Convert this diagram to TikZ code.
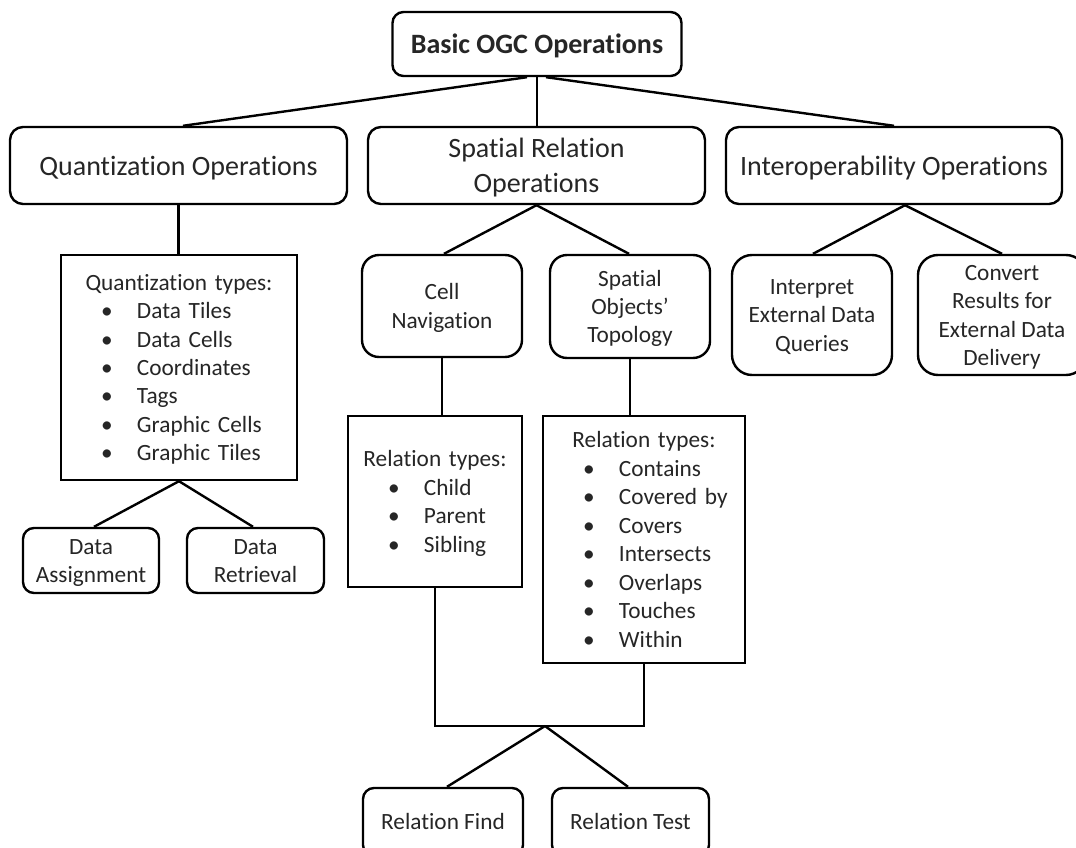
\documentclass[tikz,border=0pt]{standalone}
\usepackage{fontspec}
\setmainfont{Carlito}[Ligatures={NoCommon}]
\newcommand\itm[1]{\makebox[\hsize][l]{\hspace*{40pt}\makebox[36pt][l]{\textbullet}#1}}
\newcommand\cstrut{\vrule width 0pt height 0.952em depth 0.269em\relax}
\newcommand\T[1]{\cstrut#1\cstrut}
\tikzset{
  base/.style={draw=black, line width=2.4pt, inner sep=0pt, align=center, text=black!85},
  big/.style={base, font=\fontsize{28}{34.2}\selectfont},
  small/.style={base, font=\fontsize{23.3}{28.45}\selectfont},
  listbox/.style={small, text width=#1, minimum width=#1,
    execute at begin node={\leavevmode\cstrut}, execute at end node={\cstrut}},
  conn/.style={draw=black, line width=2.4pt},
}
\begin{document}
\begin{tikzpicture}[x=1pt, y=-1pt]
\path[use as bounding box, fill=white] (0,0) rectangle (1076,848);
\clip (0,0) rectangle (1076,848);

% level 0
\node[big, font=\fontsize{28}{34.2}\selectfont\bfseries, minimum width=289, minimum height=64, rounded corners=11] (top) at (537,44) {\T{Basic OGC Operations}};

% level 1
\node[big, minimum width=337, minimum height=77, rounded corners=13] (qop) at (178.5,165.5) {\T{Quantization Operations}};
\node[big, minimum width=337, minimum height=77, rounded corners=13] (sop) at (536.5,165.5) {\T{Spatial Relation\\Operations}};
\node[big, minimum width=336, minimum height=77, rounded corners=13] (iop) at (894,165.5) {\T{Interoperability Operations}};

% quantization branch
\node[listbox=236, minimum height=225] (qtypes) at (179,367.5) {Quantization types:\\\itm{Data Tiles}\\\itm{Data Cells}\\\itm{Coordinates}\\\itm{Tags}\\\itm{Graphic Cells}\\\itm{Graphic Tiles}};
\node[small, minimum width=136, minimum height=65, rounded corners=11] (da) at (91,560.5) {\T{Data\\Assignment}};
\node[small, minimum width=137, minimum height=65, rounded corners=11] (dr) at (255.5,560.5) {\T{Data\\Retrieval}};

% spatial relation branch
\node[small, minimum width=160, minimum height=102, rounded corners=17] (cn) at (442,306) {\T{Cell\\Navigation}};
\node[small, minimum width=160, minimum height=103, rounded corners=17] (tp) at (630,306.5) {\T{Spatial\\Objects’\\Topology}};
\node[listbox=174, minimum height=171] (crel) at (435,501.5) {Relation types:\\\itm{Child}\\\itm{Parent}\\\itm{Sibling}};
\node[listbox=202, minimum height=247] (trel) at (644,539.5) {Relation types:\\\itm{Contains}\\\itm{Covered by}\\\itm{Covers}\\\itm{Intersects}\\\itm{Overlaps}\\\itm{Touches}\\\itm{Within}};
\node[small, minimum width=160, minimum height=68, rounded corners=11] (rf) at (443,822) {\T{Relation Find}};
\node[small, minimum width=157, minimum height=68, rounded corners=11] (rt) at (630.5,822) {\T{Relation Test}};
\coordinate (j) at (545,726);

% interoperability branch
\node[small, minimum width=160, minimum height=120, rounded corners=20] (ie) at (812,315) {\T{Interpret\\External Data\\Queries}};
\node[small, minimum width=168, minimum height=120, rounded corners=20] (cv) at (1002,315) {\T{Convert\\Results for\\External Data\\Delivery}};

% connectors
\draw[conn] ([xshift=-10pt]top.south) -- ([xshift=4.5pt]qop.north);
\draw[conn] (top.south) -- (top.south |- sop.north);
\draw[conn] ([xshift=9pt]top.south) -- (iop.north);
\draw[conn] (qop.south) -- (qop.south |- qtypes.north);
\draw[conn] (qtypes.south) -- ([xshift=3pt]da.north);
\draw[conn] (qtypes.south) -- ([xshift=-2.5pt]dr.north);
\draw[conn] (sop.south) -- ([xshift=2pt]cn.north);
\draw[conn] (sop.south) -- ([xshift=-1pt]tp.north);
\draw[conn] ([xshift=11pt]iop.south) -- ([xshift=1pt]ie.north);
\draw[conn] ([xshift=11pt]iop.south) -- (cv.north);
\draw[conn] (cn.south) -- (cn.south |- crel.north);
\draw[conn] (tp.south) -- (tp.south |- trel.north);
\draw[conn] (crel.south) |- (j) -| (trel.south);
\draw[conn] (j) -- ([xshift=4pt]rf.north);
\draw[conn] (j) -- ([xshift=-2.5pt]rt.north);
\end{tikzpicture}
\end{document}
